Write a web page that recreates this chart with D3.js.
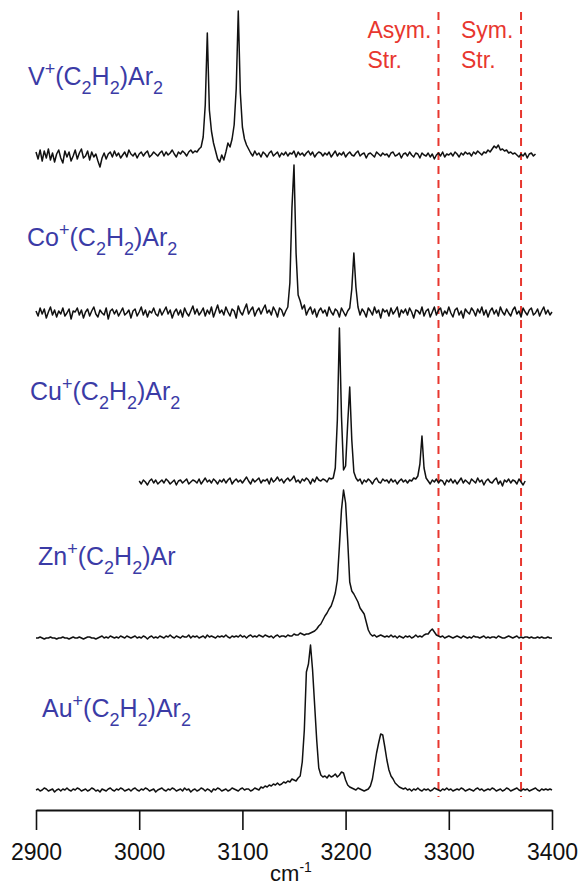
<!DOCTYPE html>
<html>
<head>
<meta charset="utf-8">
<title>M+(C2H2)Arn IR spectra</title>
<script src="https://cdn.jsdelivr.net/npm/d3@7"></script>
<style>
  body { margin: 0; background: #ffffff; }
  text { font-family: 'Liberation Sans', Arial, sans-serif; }
</style>
</head>
<body>
<script>
'use strict'

// spectra are sampled every 2 cm-1, values are intensity above each baseline
const step = 2
const traceStart = [2900, 2900, 3000, 2900, 2900]
const traceOffset = [645, 487, 318, 162, 10]

const vSignal = [
  3,-4,5,-6,4,-3,6,-5,2,-7,  1,5,-3,-8,4,-2,3,-6,-1,5,
  -4,2,6,-3,-1,4,-5,3,-2,1,  -6,-12,-3,2,-4,1,3,-2,4,-1,
  2,-3,0,3,-2,5,1,-1,2,-3,   1,3,-1,2,4,-2,0,3,1,-1,
  2,4,-1,3,0,2,5,1,-2,3,     1,4,2,-1,3,5,2,4,3,6,
  8,18,50,122,45,24,12,4,-4,-7,  0,-5,3,12,8,16,30,66,144,62,
  28,16,10,6,2,-1,4,0,2,-2,  3,1,-2,2,4,-1,1,3,-2,2,
  0,3,-1,2,1,4,-2,3,0,2,     -1,2,4,0,3,-2,1,3,2,-1,
  2,0,3,-2,1,4,-1,2,0,3,     -2,1,3,0,-1,2,4,-1,1,2,
  -3,1,2,0,-2,3,1,-1,2,0,    1,-2,2,3,-1,0,2,-3,1,2,
  -1,3,0,-2,2,1,-3,2,0,-1,   2,-2,1,-4,0,2,-1,3,-2,1,
  0,2,-1,3,1,-2,2,0,3,1,     2,-1,3,1,4,2,0,3,2,5,
  3,6,9,7,10,5,6,4,5,2,      3,1,2,0,-2,1,-1,2,-3,1,
  2,-1,1
]

const coSignal = [
  2,-3,5,-1,4,-5,1,6,-2,3,   -4,2,-1,5,-3,0,4,-6,2,1,
  5,-2,3,-5,1,4,-3,2,6,-1,   -4,3,0,-2,5,-6,2,4,-1,3,
  -3,1,5,-2,0,3,-5,2,4,-3,   1,6,-2,3,-4,2,0,5,-1,-3,
  4,-2,2,6,-1,3,-5,1,4,-2,   3,-4,5,0,-3,2,7,-1,4,-2,
  1,5,-3,3,-1,6,-4,2,8,0,    3,-2,6,1,-3,4,2,-5,7,1,
  -2,4,9,-1,3,6,-3,2,5,-1,   4,8,0,3,-2,6,2,-4,5,3,
  -3,2,6,30,105,148,60,18,12,4,  8,-2,3,6,-1,4,-4,2,5,0,
  3,-3,6,1,-2,4,2,-4,5,1,    -3,2,5,24,60,26,6,-2,4,1,
  -4,5,2,-2,6,0,3,-5,4,1,    3,-3,5,-1,2,6,-4,3,0,4,
  -2,5,1,-5,3,2,-1,6,-3,2,   4,-4,1,6,-2,3,5,-3,2,-1,
  6,0,-4,3,5,-2,2,-5,4,1,    -1,5,2,-3,4,0,6,-2,3,-4,
  2,5,-1,3,-3,6,1,-2,4,0,    -3,3,6,-1,2,-4,5,1,-2,3,
  5,-2,0,4,-3,2,6,-1,3,-2,   1
]

const cuSignal = [
  1,-2,2,0,-3,1,3,-1,2,-2,   0,2,-1,3,1,-2,0,2,-3,1,
  2,-1,1,3,-2,0,2,1,-1,3,    -2,1,4,0,2,-1,3,1,-2,2,
  0,3,-1,2,4,-2,1,3,0,2,     -1,2,5,1,-2,3,0,2,4,-1,
  2,1,3,-2,4,0,2,5,1,3,      -1,2,4,1,3,6,0,2,-1,3,
  1,4,2,-2,3,0,5,2,1,3,      2,0,4,3,4,14,62,154,66,12,
  16,58,95,42,10,4,1,3,-2,2, 0,3,1,-2,2,4,0,-1,3,1,
  2,-1,3,0,2,-2,1,3,0,2,     -1,2,1,4,3,6,18,46,14,4,
  1,-2,2,0,3,-1,2,1,-3,2,    0,3,-1,2,-2,1,4,-1,2,0,
  -2,3,1,-1,4,0,2,-3,1,3,    0,-1,2,4,-2,1,-4,2,0,3,
  -1,2,1,-2,3,0,-3,1
]

const znSignal = [
  0,0,1,0,-1,0,0,1,0,0,      -1,0,0,1,0,0,-1,0,1,0,
  0,1,0,-1,0,1,1,0,0,-1,     0,1,2,0,1,0,2,1,0,1,
  0,2,1,0,2,1,0,1,2,0,       1,0,2,1,-1,1,2,0,1,0,
  2,1,0,2,1,3,1,0,2,1,       0,2,1,1,3,0,2,1,2,0,
  1,2,0,3,1,2,1,0,2,1,       2,1,3,1,0,2,1,2,1,3,
  1,2,0,2,3,1,2,1,3,2,       1,3,2,1,2,0,2,3,1,2,
  2,1,3,2,2,4,3,3,5,4,       3,4,4,5,6,7,9,12,14,18,
  22,25,29,32,38,45,58,92,128,148,  135,98,56,47,44,40,36,30,27,24,
  16,8,4,2,3,1,2,3,2,1,      2,1,3,1,2,0,2,1,0,2,
  1,2,0,1,3,1,2,1,3,4,       4,7,9,6,3,2,1,2,0,1,
  2,1,0,1,2,1,0,2,1,0,       1,0,2,1,1,0,1,2,0,1,
  0,1,1,0,2,1,0,0,1,2,       1,0,1,2,0,1,0,1,1,0,
  1,0,0,1,0,1,0,0,1,0,       0
]

const auSignal = [
  0,1,-1,0,2,1,-1,0,1,-2,    0,1,-1,1,0,2,0,-1,1,0,
  2,1,-1,0,1,-1,0,2,1,-1,    0,-2,1,0,-1,1,2,0,-1,1,
  0,2,1,-1,0,1,-1,1,2,0,     -1,1,0,2,1,-1,0,1,-2,0,
  1,2,0,-1,1,0,2,1,-1,0,     1,-1,2,0,1,-2,0,1,-1,0,
  2,1,-1,1,0,-2,1,0,2,1,     -1,0,1,-1,0,2,1,0,-1,1,
  2,0,1,1,-1,0,2,1,0,3,      2,4,3,5,4,6,5,7,5,6,
  8,7,9,8,11,10,9,12,14,28,  60,118,126,145,120,85,50,22,15,13,
  14,12,15,13,14,16,13,15,18,17,  10,5,3,2,1,0,2,1,0,-1,
  0,1,4,11,24,37,47,56,55,43,  30,20,14,11,7,5,3,2,1,2,
  0,1,-1,1,0,2,0,-1,1,0,     1,-1,0,2,1,0,-1,1,0,2,
  0,1,-1,0,1,0,2,1,-1,0,     1,0,-1,1,2,0,1,-1,0,1,
  0,2,1,-1,0,1,-1,0,2,1,     -1,0,1,2,0,-1,1,0,1,-1,
  0,1,2,0,-1,1,0,1,0,1,      0
]

const signals = [vSignal, coSignal, cuSignal, znSignal, auSignal]

// species labels: [text, 'sup' | 'sub' | '']
const speciesLabels = [
  [['V', ''], ['+', 'sup'], ['(C', ''], ['2', 'sub'], ['H', ''], ['2', 'sub'], [')Ar', ''], ['2', 'sub']],
  [['Co', ''], ['+', 'sup'], ['(C', ''], ['2', 'sub'], ['H', ''], ['2', 'sub'], [')Ar', ''], ['2', 'sub']],
  [['Cu', ''], ['+', 'sup'], ['(C', ''], ['2', 'sub'], ['H', ''], ['2', 'sub'], [')Ar', ''], ['2', 'sub']],
  [['Zn', ''], ['+', 'sup'], ['(C', ''], ['2', 'sub'], ['H', ''], ['2', 'sub'], [')Ar', '']],
  [['Au', ''], ['+', 'sup'], ['(C', ''], ['2', 'sub'], ['H', ''], ['2', 'sub'], [')Ar', ''], ['2', 'sub']]
]

// free acetylene C-H stretches
const refLines = [3290, 3370]
const refLabels = [['Asym.', 'Str.'], ['Sym.', 'Str.']]

const xTicks = [2900, 3000, 3100, 3200, 3300, 3400]

// layout
const width = 579
const height = 888
const axisY = 810
const labelX = [28, 27, 30, 38, 42]
const labelY = [85, 246, 400, 565, 717]

const svg = d3.select('body').append('svg')
  .attr('width', width)
  .attr('height', height)

svg.append('rect')
  .attr('width', '100%')
  .attr('height', '100%')
  .attr('fill', '#ffffff')

const x = d3.scaleLinear()
  .domain([2900, 3400])
  .range([36, 552])

const y = d3.scaleLinear()
  .domain([0, 800])
  .range([800, 0])

// dashed reference lines
svg.selectAll('line.ref')
  .data(refLines)
  .enter().append('line')
  .attr('class', 'ref')
  .attr('x1', d => x(d))
  .attr('x2', d => x(d))
  .attr('y1', 12)
  .attr('y2', 797)
  .attr('stroke', '#e8372f')
  .attr('stroke-width', 2)
  .attr('stroke-dasharray', '8,6')

refLabels.forEach(function(lines, i) {
  const t = svg.append('text')
    .attr('fill', '#e8372f')
    .attr('font-size', 23)
  lines.forEach(function(s, j) {
    t.append('tspan')
      .attr('x', x(refLines[i]) - (i == 0 ? 71 : 60))
      .attr('y', 38 + j * 30)
      .text(s)
  })
})

// spectra
signals.forEach(function(sig, k) {
  const line = d3.line()
    .x((d, i) => x(traceStart[k] + i * step))
    .y(d => y(traceOffset[k] + d))
  svg.append('path')
    .datum(sig)
    .attr('d', line)
    .attr('fill', 'none')
    .attr('stroke', '#111111')
    .attr('stroke-width', 1.5)
    .attr('stroke-linejoin', 'round')
})

// species labels
speciesLabels.forEach(function(parts, k) {
  const t = svg.append('text')
    .attr('x', labelX[k])
    .attr('y', labelY[k])
    .attr('fill', '#3b3ba6')
    .attr('font-size', 25)
  let shift = 0
  parts.forEach(function(p) {
    const target = p[1] == 'sup' ? -10 : (p[1] == 'sub' ? 9 : 0)
    t.append('tspan')
      .attr('dy', target - shift)
      .attr('font-size', p[1] == '' ? 25 : 18)
      .text(p[0])
    shift = target
  })
})

// x axis
const axis = svg.append('g')
  .attr('transform', 'translate(0,' + axisY + ')')

axis.call(d3.axisBottom(x)
    .tickValues(d3.range(2900, 3401, 20))
    .tickSize(10)
    .tickSizeOuter(0)
    .tickFormat(''))

axis.call(d3.axisBottom(x)
    .tickValues(xTicks)
    .tickSize(20)
    .tickSizeOuter(0)
    .tickPadding(14)
    .tickFormat(d3.format('d')))

axis.selectAll('.domain')
  .attr('stroke', '#111111')
  .attr('stroke-width', 2)
axis.selectAll('.tick line')
  .attr('stroke', '#111111')
  .attr('stroke-width', 1.6)
axis.selectAll('.tick text')
  .attr('font-size', 23)
  .attr('fill', '#111111')
  .attr('font-family', "'Liberation Sans', Arial, sans-serif")

const unit = svg.append('text')
  .attr('x', 291)
  .attr('y', 881)
  .attr('text-anchor', 'middle')
  .attr('font-size', 22)
  .attr('fill', '#111111')
unit.append('tspan').text('cm')
unit.append('tspan')
  .attr('dy', -9)
  .attr('font-size', 14)
  .text('-1')
</script>
</body>
</html>
